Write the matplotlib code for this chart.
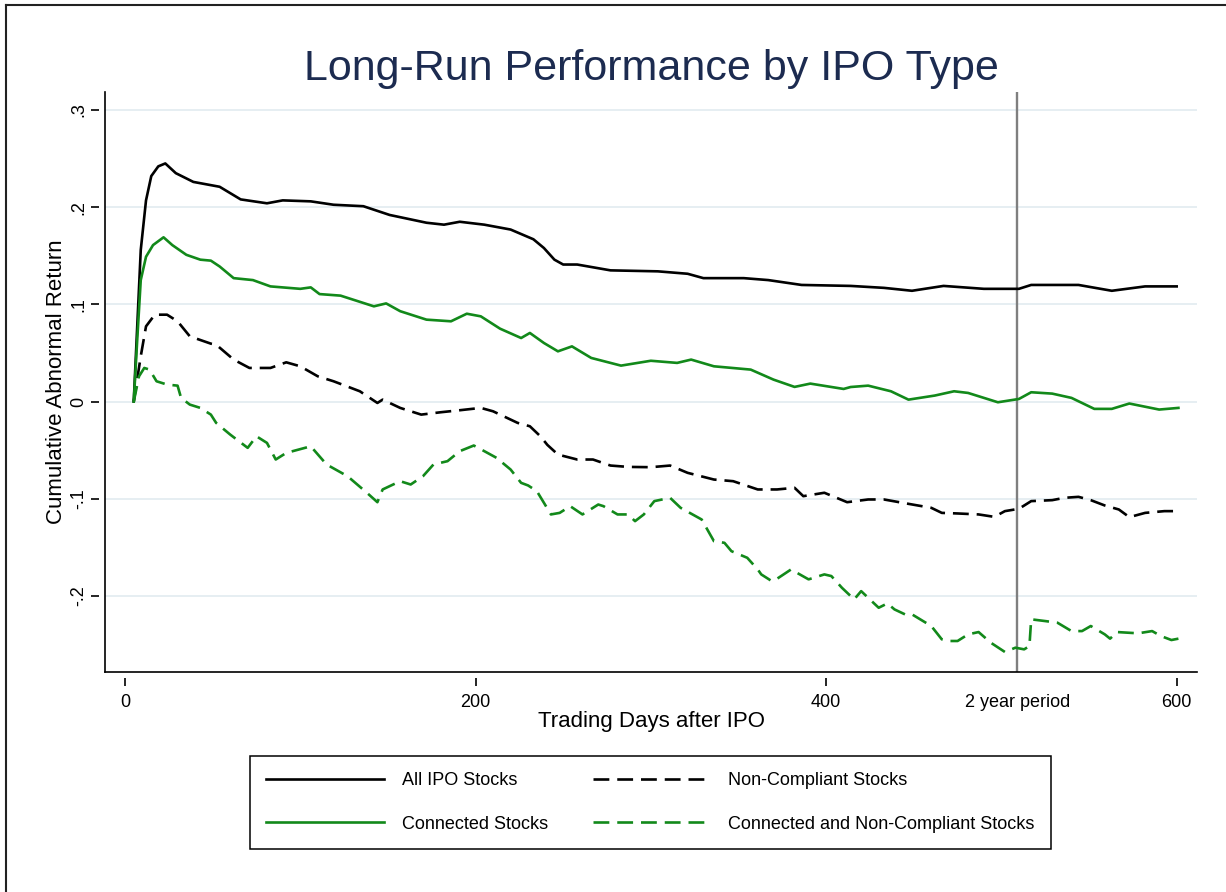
import matplotlib
matplotlib.use("Agg")
import matplotlib.pyplot as plt
from matplotlib.lines import Line2D

plt.rcParams['font.family'] = ['Liberation Sans', 'DejaVu Sans']

# values (trading day, cumulative abnormal return)
all_days = [5, 9, 12, 15, 19, 23, 29, 39, 54, 66, 81, 90, 106, 119, 136, 151, 172, 182, 191,
            205, 220, 233, 239, 245, 250, 258, 277, 304, 321, 330, 353, 367, 386, 414, 433,
            449, 467, 490, 510, 517, 544, 563, 582, 600]
all_car = [0, .156, .207, .232, .242, .245, .235, .226, .221, .208, .204, .207, .206, .2025,
           .201, .192, .184, .182, .185, .182, .177, .167, .158, .146, .141, .141, .135, .134,
           .1315, .127, .127, .125, .120, .119, .117, .114, .119, .116, .116, .120, .120, .114,
           .1185, .1185]

conn_days = [5, 7, 9, 12, 16, 22, 27, 35, 43, 49, 54, 62, 73, 83, 100, 106, 111, 123, 142,
             149, 157, 172, 186, 195, 203, 214, 226, 231, 239, 247, 255, 266, 283, 300, 315,
             323, 336, 357, 370, 382, 391, 410, 414, 424, 437, 447, 462, 473, 481, 498, 510,
             517, 529, 540, 553, 563, 573, 590, 601]
conn_car = [0, .064, .125, .149, .161, .169, .161, .151, .146, .145, .139, .127, .125, .1185,
            .116, .1175, .1106, .109, .098, .101, .093, .0843, .0826, .0904, .0877, .075,
            .0654, .0706, .0603, .0517, .0568, .0449, .037, .042, .0398, .0432, .0363, .0329,
            .0226, .0151, .0185, .013, .015, .0164, .0106, .002, .0062, .0106, .0089, -.0007,
            .0027, .0096, .0082, .0038, -.0075, -.0075, -.002, -.0082, -.0065]

nc_days = [5, 9, 12, 17, 24, 30, 37, 49, 52, 62, 71, 83, 92, 100, 110, 119, 134, 144, 147,
           157, 169, 180, 191, 203, 210, 224, 231, 237, 241, 247, 258, 267, 277, 287, 300,
           311, 321, 336, 347, 361, 372, 382, 387, 399, 412, 424, 433, 447, 460, 466, 475,
           487, 496, 502, 510, 517, 529, 536, 544, 551, 559, 567, 573, 582, 593, 600]
nc_car = [0, .0466, .0774, .0894, .0894, .0826, .0671, .0596, .0586, .0432, .0346, .0346,
          .0404, .0363, .026, .0209, .0106, -.0014, .002, -.0065, -.0134, -.011, -.0089,
          -.0065, -.01, -.0219, -.0254, -.0357, -.0446, -.0545, -.0596, -.0596, -.0658,
          -.0672, -.0675, -.0658, -.0733, -.0802, -.0819, -.0904, -.0904, -.0887, -.0973,
          -.0938, -.1035, -.1007, -.1007, -.1052, -.1093, -.1145, -.1151, -.1161, -.1186,
          -.1127, -.1103, -.1024, -.1014, -.099, -.098, -.1014, -.1069, -.111, -.1189,
          -.1145, -.1127, -.1127]

cnc_days = [5, 8, 11, 14, 18, 24, 30, 32, 37, 43, 49, 52, 60, 70, 75, 81, 86, 92, 106, 115,
            127, 138, 144, 147, 157, 163, 170, 176, 184, 191, 199, 205, 212, 220, 226, 230,
            235, 239, 243, 248, 254, 261, 270, 273, 281, 287, 291, 296, 302, 311, 317, 329,
            336, 342, 346, 355, 361, 363, 369, 372, 380, 384, 390, 399, 403, 409, 416, 420,
            426, 430, 435, 439, 445, 449, 460, 466, 470, 475, 481, 487, 494, 502, 508, 513,
            516, 517, 525, 532, 540, 546, 551, 559, 562, 566, 578, 586, 591, 597, 601]
cnc_car = [0, .026, .0346, .0329, .0209, .0175, .0164, .0038, -.0031, -.0065, -.0134, -.0219,
           -.0339, -.0476, -.0357, -.0425, -.0596, -.0528, -.046, -.0647, -.0768, -.0938,
           -.1035, -.0904, -.0819, -.0853, -.0768, -.0647, -.0613, -.051, -.0452, -.051,
           -.0579, -.0699, -.0836, -.0863, -.0922, -.1041, -.1161, -.1145, -.1076, -.1161,
           -.1059, -.1076, -.1161, -.1161, -.123, -.1161, -.1024, -.099, -.1093, -.1213,
           -.1436, -.1453, -.1539, -.1607, -.1727, -.1778, -.1847, -.1823, -.1727, -.1768,
           -.1829, -.1778, -.1795, -.1915, -.2035, -.195, -.2053, -.2121, -.2076, -.2138,
           -.2189, -.2189, -.2309, -.2446, -.2463, -.2463, -.2395, -.2371, -.2481, -.2576,
           -.2532, -.2549, -.2515, -.224, -.2258, -.2275, -.2361, -.2361, -.2309, -.2395,
           -.2439, -.2371, -.2384, -.2361, -.2412, -.2453, -.2439]

two_year = 509
x_ticks = [0, 200, 400, 600]
y_ticks = [-.2, -.1, 0, .1, .2, .3]
y_tick_labels = ['-.2', '-.1', '0', '.1', '.2', '.3']

green = '#12891a'
W, H = 1226, 892

fig = plt.figure(figsize=(W / 100, H / 100), dpi=100)
ax = fig.add_axes([105 / W, 1 - 672 / H, (1197 - 105) / W, (672 - 92) / H])

xlo, xhi = -11.4, 611.6
ylo, yhi = -0.2782, 0.3185
ax.set_xlim(xlo, xhi)
ax.set_ylim(ylo, yhi)

for y in y_ticks:
    ax.axhline(y, color='#e4edf1', lw=1.3, zorder=0)

ax.axvline(two_year, color='#7f7f7f', lw=1.7, zorder=3)

lw = 1.9
ax.plot(all_days, all_car, color='black', lw=lw, label='All IPO Stocks', zorder=4)
ax.plot(nc_days, nc_car, color='black', lw=lw, dashes=(6, 3), label='Non-Compliant Stocks', zorder=4)
ax.plot(conn_days, conn_car, color=green, lw=lw, label='Connected Stocks', zorder=4)
ax.plot(cnc_days, cnc_car, color=green, lw=lw, dashes=(6, 3),
        label='Connected and Non-Compliant Stocks', zorder=4)

# Stata style axes: ticks detached from the axis line
for side in ['top', 'right']:
    ax.spines[side].set_visible(False)
for side in ['left', 'bottom']:
    ax.spines[side].set_position(('outward', 4))
    ax.spines[side].set_visible(False)
ax.axhline(ylo, color='black', lw=1.2, clip_on=False, zorder=5)
ax.axvline(xlo, color='black', lw=1.2, clip_on=False, zorder=5)

ax.set_xticks(x_ticks)
ax.set_xticklabels([str(t) for t in x_ticks])
ax.set_yticks(y_ticks)
ax.set_yticklabels(y_tick_labels, rotation=90, va='center')
ax.tick_params(axis='both', direction='out', length=6, width=1.2, labelsize=13, color='black')
ax.tick_params(axis='x', pad=6)
ax.tick_params(axis='y', pad=3)

ax.annotate('2 year period', xy=(two_year, 0), xycoords=ax.get_xaxis_transform(),
            xytext=(0, -16), textcoords='offset points', ha='center', va='top', fontsize=13)

ax.set_xlabel('Trading Days after IPO', fontsize=16, labelpad=0)
ax.set_ylabel('Cumulative Abnormal Return', fontsize=16, labelpad=2)

fig.text(651 / W, 1 - 80 / H, 'Long-Run Performance by IPO Type', ha='center', va='baseline',
         fontsize=31, color='#1c2b50')

# legend filled column-wise: col 1 solid lines, col 2 dashed
handles, labels = ax.get_legend_handles_labels()
order = [0, 2, 1, 3]
leg = fig.legend([handles[i] for i in order], [labels[i] for i in order], ncol=2,
                 loc='center', bbox_to_anchor=(650.5 / W, 1 - 802.5 / H),
                 fontsize=13, handlelength=6.5, handletextpad=1.0, columnspacing=2.5,
                 labelspacing=1.45, borderpad=0.9, fancybox=False, framealpha=1,
                 edgecolor='black')
leg.get_frame().set_linewidth(1.1)

# outer graph region border (only left and top visible in the crop)
fig.add_artist(Line2D([6 / W, 6 / W], [0, 1 - 5 / H], color='#222222', lw=1.5))
fig.add_artist(Line2D([6 / W, 1], [1 - 5 / H, 1 - 5 / H], color='#222222', lw=1.5))

fig.savefig('out.png', dpi=100)
